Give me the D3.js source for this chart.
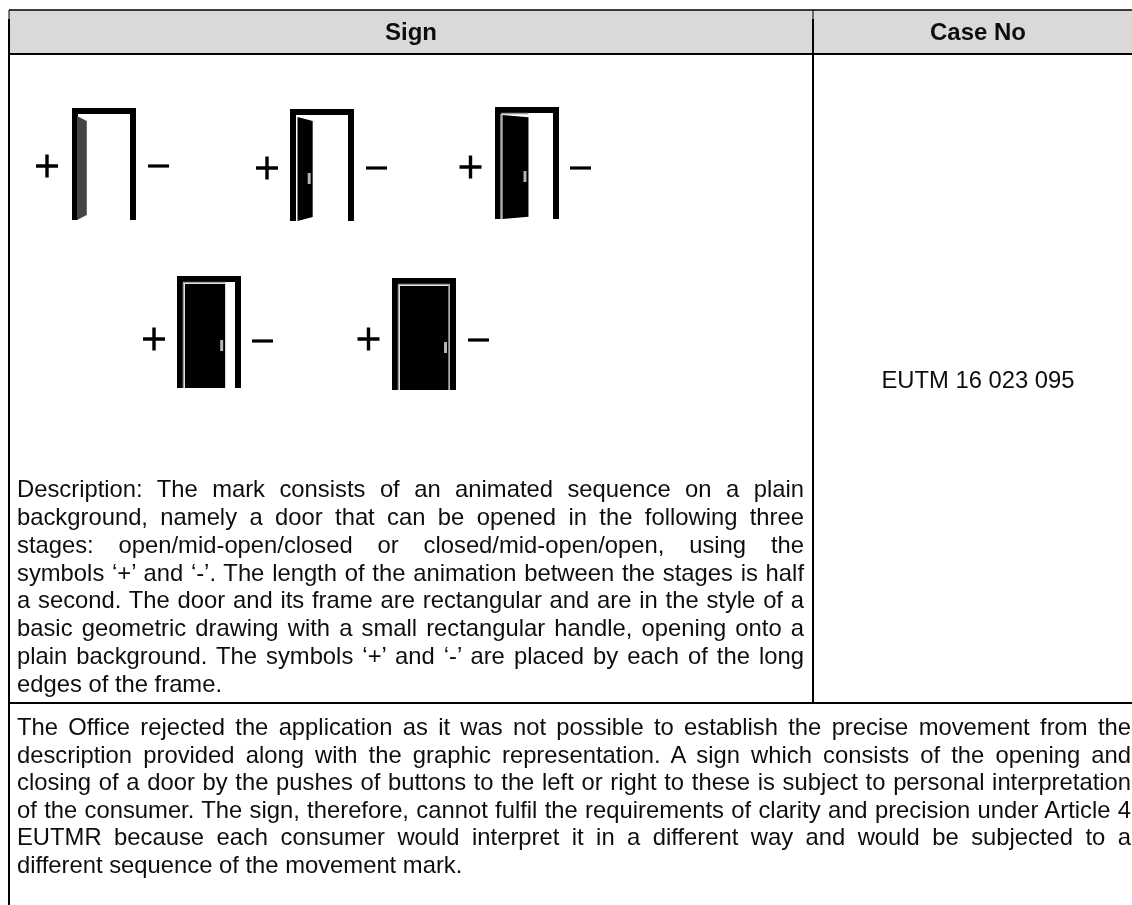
<!DOCTYPE html>
<html><head><meta charset="utf-8">
<script src="https://cdn.jsdelivr.net/npm/d3@7"></script>
<style>html,body{margin:0;padding:0;background:#fff;overflow:hidden}svg{display:block}</style>
</head><body><svg id="c" width="1132" height="905"></svg>
<script>
const columnTitles = ["Sign", "Case No"];
const caseNumber = "EUTM 16 023 095";
const doorOpenness = [0.2, 0.31, 0.53, 0.82, 1];
const doorRow = [0, 0, 0, 1, 1];
const descriptionLines = [
 "Description: The mark consists of an animated sequence on a plain",
 "background, namely a door that can be opened in the following three",
 "stages: open/mid-open/closed or closed/mid-open/open, using the",
 "symbols \u2018+\u2019 and \u2018-\u2019. The length of the animation between the stages is half",
 "a second. The door and its frame are rectangular and are in the style of a",
 "basic geometric drawing with a small rectangular handle, opening onto a",
 "plain background. The symbols \u2018+\u2019 and \u2018-\u2019 are placed by each of the long",
 "edges of the frame."
];
const reasonLines = [
 "The Office rejected the application as it was not possible to establish the precise movement from the",
 "description provided along with the graphic representation. A sign which consists of the opening and",
 "closing of a door by the pushes of buttons to the left or right to these is subject to personal interpretation",
 "of the consumer. The sign, therefore, cannot fulfil the requirements of clarity and precision under Article 4",
 "EUTMR because each consumer would interpret it in a different way and would be subjected to a",
 "different sequence of the movement mark."
];

const svg = d3.select("#c");
const defs = svg.append("defs");
defs.append("filter").attr("id", "soft").append("feGaussianBlur").attr("stdDeviation", 0.6);
defs.append("filter").attr("id", "softText").append("feGaussianBlur").attr("stdDeviation", 0.3);
const font = "'Liberation Sans', Arial, sans-serif";
const bodySize = 23.8;
const L = 9, T = 10, H = 54, M = 813, B = 703, R = 1132, Bottom = 905, Notch = 19;
svg.append("rect").attr("x", L).attr("y", T).attr("width", R - L).attr("height", H - T).attr("fill", "#d9d9d9");
const rules = [[L, T, R, T, 1.3], [L, H, R, H, 2], [L, B, R, B, 2], [L, T, L, Notch, 1], [L, Notch, L, Bottom, 2], [M, T, M, Notch, 1], [M, Notch, M, B, 2]];
svg.selectAll("line.r").data(rules).join("line").attr("class", "r")
  .attr("x1", d => d[0]).attr("y1", d => d[1]).attr("x2", d => d[2]).attr("y2", d => d[3])
  .attr("stroke", "#000").attr("stroke-width", d => d[4]);

const text = svg.append("g").attr("filter", "url(#softText)");
const colX = d3.scaleOrdinal().domain(columnTitles).range([411, 978]);
text.selectAll("text.h").data(columnTitles).join("text").attr("class", "h")
  .attr("x", d => colX(d)).attr("y", 40).attr("text-anchor", "middle")
  .attr("font-family", font).attr("font-weight", "bold").attr("font-size", 24).attr("fill", "#111").text(d => d);
text.append("text").attr("x", 978).attr("y", 388).attr("text-anchor", "middle")
  .attr("font-family", font).attr("font-size", bodySize).attr("fill", "#111").text(caseNumber);

const doorX = [72, 290, 495, 177, 392];
const doorY = [108, 109, 107, 276, 278];
const plusX = [47, 267, 470.5, 154, 368.5];
const plusY = [166, 168, 167, 339, 339];
const minusX = [158.5, 376.5, 580.5, 262.5, 478.5];
const minusY = [166, 168, 168, 341, 340];
const fw = 64, fh = 112;
const leafWidth = d3.scaleLinear().domain([0, 1]).range([0, 49]);
const leafDrop = d3.scaleLinear().domain([0.2, 0.82]).range([5, 0]).clamp(true);
const g = svg.append("g").attr("filter", "url(#soft)");
doorOpenness.forEach((o, i) => {
  const d = g.append("g").attr("transform", `translate(${doorX[i]},${doorY[i]})`);
  d.append("path").attr("d", `M3 ${fh}V3H${fw - 3}V${fh}`).attr("fill", "none").attr("stroke", "#000").attr("stroke-width", 6);
  const w = leafWidth(o), lx = i === 0 ? 5 : (doorRow[i] ? 8 : 7.5), top = 8, drop = leafDrop(o);
  if (o > 0.5) {
    d.append("path").attr("d", `M${lx - 1.5} 7V${fh}M${lx - 1.5} 6.5H${lx + w}`).attr("fill", "none").attr("stroke", "#999").attr("stroke-width", 1.6);
  }
  d.append("path").attr("d", `M${lx} ${top}L${lx + w} ${top + drop}V${fh - drop}L${lx} ${fh}Z`).attr("fill", i === 0 ? "#444" : "#000");
  if (o > 0.3) d.append("rect").attr("x", lx + w - 5).attr("y", 64).attr("width", 3).attr("height", 11).attr("fill", "#b5b5b5");
  if (o === 1) d.append("path").attr("d", `M${fw - 7} 6.5V${fh}`).attr("stroke", "#999").attr("stroke-width", 1.6);
  const sym = g.append("g");
  sym.append("path").attr("d", `M${plusX[i] - 11} ${plusY[i]}h22M${plusX[i]} ${plusY[i] - 11.5}v23`).attr("stroke", "#000").attr("stroke-width", 3.4).attr("fill", "none");
  sym.append("path").attr("d", `M${minusX[i] - 10.5} ${minusY[i]}h21`).attr("stroke", "#000").attr("stroke-width", 3.2).attr("fill", "none");
});

function lines(arr, y0, step, x0, x1, cls) {
  const t = text.selectAll("text." + cls).data(arr).join("text").attr("class", cls)
    .attr("x", x0).attr("y", (d, i) => y0 + i * step)
    .attr("font-family", font).attr("font-size", bodySize).attr("fill", "#111").text(d => d);
  t.each(function (d, i) {
    if (i === arr.length - 1) return;
    const len = this.getComputedTextLength();
    const spaces = d.split(" ").length - 1;
    d3.select(this).attr("word-spacing", (x1 - x0 - len) / spaces);
  });
}
lines(descriptionLines, 497, 27.85, 17, 804, "desc");
lines(reasonLines, 735, 27.5, 17, 1131, "rsn");
</script></body></html>
